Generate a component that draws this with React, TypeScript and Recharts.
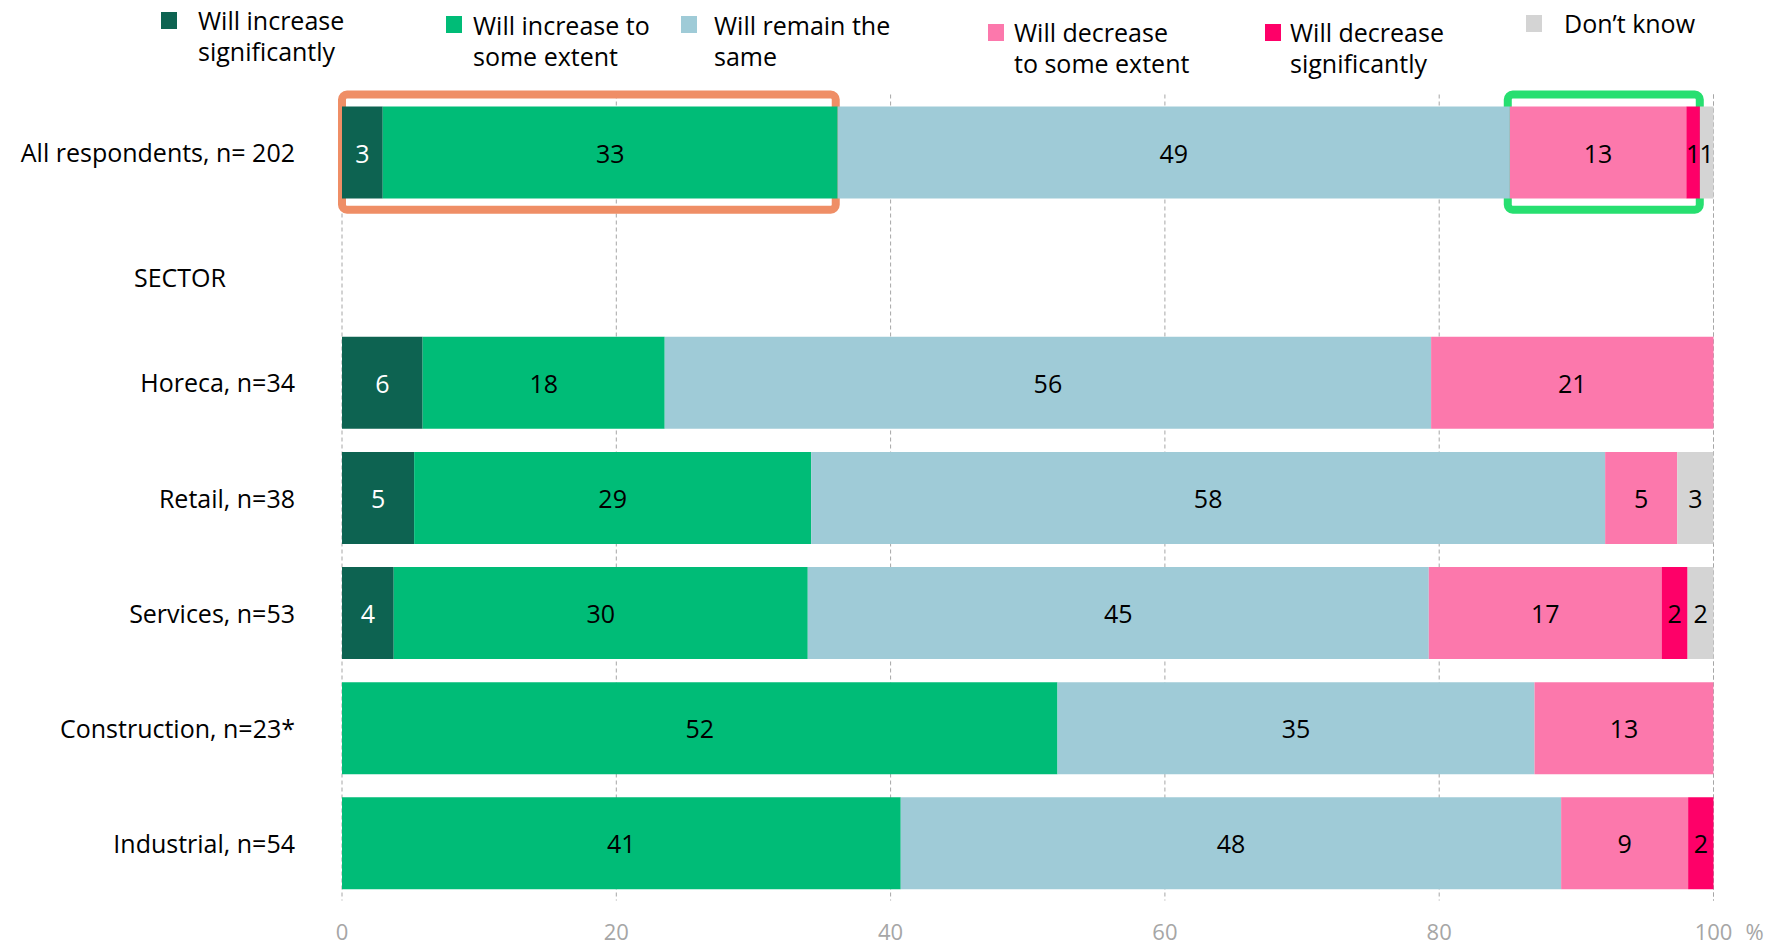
import { Bar, BarChart, CartesianGrid, LabelList, ReferenceArea, XAxis, YAxis } from "recharts";

const CATEGORIES = [
  "All respondents, n= 202",
  "SECTOR",
  "Horeca, n=34",
  "Retail, n=38",
  "Services, n=53",
  "Construction, n=23*",
  "Industrial, n=54",
];

const SERIES_NAMES = [
  "Will increase\nsignificantly",
  "Will increase to\nsome extent",
  "Will remain the\nsame",
  "Will decrease\nto some extent",
  "Will decrease\nsignificantly",
  "Don’t know",
];

// shares in % (labels are rounded)
const INCREASE_SIG = [2.97, 0, 5.88, 5.26, 3.77, 0, 0];
const INCREASE_SOME = [33.17, 0, 17.65, 28.95, 30.19, 52.17, 40.74];
const REMAIN = [49.01, 0, 55.88, 57.89, 45.28, 34.78, 48.15];
const DECREASE_SOME = [12.87, 0, 20.59, 5.26, 16.98, 13.04, 9.26];
const DECREASE_SIG = [0.99, 0, 0, 0, 1.89, 0, 1.85];
const DONT_KNOW = [0.99, 0, 0, 2.63, 1.89, 0, 0];

const X_TICKS = [0, 20, 40, 60, 80, 100];

// highlighted ranges on the first row
const HIGHLIGHT_ORANGE = [0, 36];
const HIGHLIGHT_GREEN = [85, 99];

const SERIES_KEYS = ["incSig", "incSome", "remain", "decSome", "decSig", "dontKnow"];
const SERIES_VALUES = [INCREASE_SIG, INCREASE_SOME, REMAIN, DECREASE_SOME, DECREASE_SIG, DONT_KNOW];
const COLORS = ["#0d6351", "#00bc77", "#9fcbd7", "#fc78ac", "#fe0068", "#d4d4d4"];
const LABEL_COLORS = ["#ffffff", "#000000", "#000000", "#000000", "#000000", "#000000"];

const LEGEND_POS = [
  { sq: [161, 12], text: [198, 4.5] },
  { sq: [446, 16], text: [473, 9.5] },
  { sq: [681, 16], text: [714, 9.5] },
  { sq: [988, 24], text: [1014, 16.5] },
  { sq: [1265, 24], text: [1290, 16.5] },
  { sq: [1526, 15], text: [1564, 7.5] },
];

const FONT = "'Open Sans', 'Noto Sans', sans-serif";
const TEXT_SIZE = 25;

const data = CATEGORIES.map((name, i) => {
  const row: Record<string, string | number> = { name };
  SERIES_KEYS.forEach((key, s) => {
    row[key] = SERIES_VALUES[s][i];
  });
  return row;
});

function segmentLabel(fill: string) {
  return (props: any) => {
    const box = props.viewBox ?? props;
    const value = Number(props.value);
    if (!value) {
      return null;
    }
    return (
      <text
        x={box.x + box.width / 2}
        y={box.y + box.height / 2}
        textAnchor="middle"
        dominantBaseline="central"
        fill={fill}
        fontSize={TEXT_SIZE}
      >
        {Math.round(value)}
      </text>
    );
  };
}

function CategoryTick({ x, y, payload }: any) {
  if (payload.value === "SECTOR") {
    return (
      <text x={x - 115} y={y + 10} textAnchor="middle" dominantBaseline="central" fill="#000" fontSize={TEXT_SIZE}>
        {payload.value}
      </text>
    );
  }
  return (
    <text x={x} y={y} textAnchor="end" dominantBaseline="central" fill="#000" fontSize={TEXT_SIZE}>
      {payload.value}
    </text>
  );
}

function PercentTick({ x, y, payload }: any) {
  return (
    <g>
      <text x={x} y={y} dy="0.71em" textAnchor="middle" fill="#a6a6a6" fontSize={22}>
        {payload.value}
      </text>
      {payload.value === 100 ? (
        <text x={x + 32} y={y} dy="0.71em" textAnchor="start" fill="#a6a6a6" fontSize={22}>
          %
        </text>
      ) : null}
    </g>
  );
}

function ChartLegend() {
  return (
    <>
      {SERIES_NAMES.map((name, i) => (
        <div key={name}>
          <div
            style={{
              position: "absolute",
              left: LEGEND_POS[i].sq[0],
              top: LEGEND_POS[i].sq[1],
              width: 16,
              height: 17,
              background: COLORS[i],
            }}
          />
          <div
            style={{
              position: "absolute",
              left: LEGEND_POS[i].text[0],
              top: LEGEND_POS[i].text[1],
              fontSize: TEXT_SIZE,
              lineHeight: "31px",
              whiteSpace: "pre-line",
              color: "#000",
            }}
          >
            {name}
          </div>
        </div>
      ))}
    </>
  );
}

export default function App() {
  return (
    <div
      style={{
        position: "absolute",
        left: 0,
        top: 0,
        width: 1771,
        height: 949,
        background: "#fff",
        fontFamily: FONT,
      }}
    >
      <BarChart
        width={1771}
        height={949}
        data={data}
        layout="vertical"
        margin={{ top: 94.5, right: 57.5, bottom: 0, left: 0 }}
        barSize={92}
      >
        <CartesianGrid horizontal={false} stroke="#a6a6a6" strokeDasharray="4 3" />
        <XAxis
          type="number"
          domain={[0, 100]}
          ticks={X_TICKS}
          height={48.5}
          axisLine={false}
          tickLine={false}
          tickSize={0}
          tickMargin={24}
          tick={<PercentTick />}
        />
        <YAxis
          type="category"
          dataKey="name"
          width={342}
          axisLine={false}
          tickLine={false}
          tickSize={0}
          tickMargin={47}
          interval={0}
          tick={<CategoryTick />}
        />
        {SERIES_KEYS.map((key, s) => (
          <Bar key={key} dataKey={key} stackId="a" fill={COLORS[s]} isAnimationActive={false}>
            <LabelList dataKey={key} content={segmentLabel(LABEL_COLORS[s])} />
          </Bar>
        ))}
        <ReferenceArea
          x1={HIGHLIGHT_ORANGE[0]}
          x2={HIGHLIGHT_ORANGE[1]}
          y1={CATEGORIES[0]}
          y2={CATEGORIES[0]}
          fill="none"
          stroke="#ef8e66"
          strokeWidth={8}
          radius={5}
          ifOverflow="visible"
        />
        <ReferenceArea
          x1={HIGHLIGHT_GREEN[0]}
          x2={HIGHLIGHT_GREEN[1]}
          y1={CATEGORIES[0]}
          y2={CATEGORIES[0]}
          fill="none"
          stroke="#27df70"
          strokeWidth={8}
          radius={5}
          ifOverflow="visible"
        />
      </BarChart>
      <ChartLegend />
    </div>
  );
}
